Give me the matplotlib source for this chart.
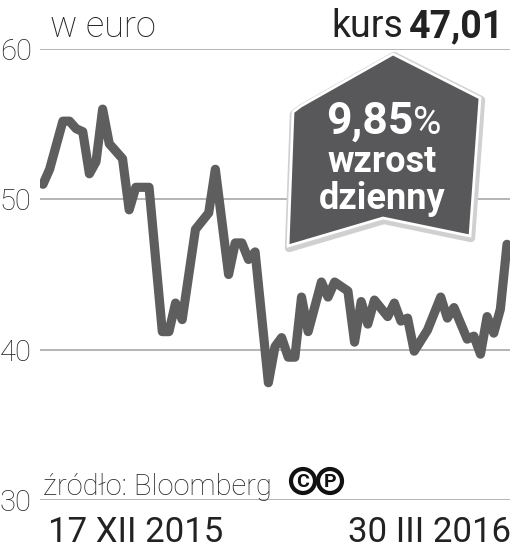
import matplotlib.pyplot as plt
from matplotlib.patches import Polygon, Ellipse

# kurs w euro, 17 XII 2015 - 30 III 2016 (dzien sesji, cena)
days = [0, 1, 3, 4, 5, 6, 7, 8, 9, 10, 12, 13, 14, 16, 18, 19, 20, 21,
        23, 25, 26, 28, 29, 30, 31, 32, 34, 35, 36, 37, 38, 39, 40, 42,
        43, 44, 46, 47, 48, 49, 50, 52, 53, 54, 55, 56, 58, 60, 61, 62,
        64, 65, 66, 67, 68, 69, 70]
price = [51.0, 52.0, 55.2, 55.2, 54.7, 54.5, 51.7, 52.5, 56.0, 53.7, 52.7,
         49.3, 50.8, 50.8, 41.2, 41.2, 43.1, 42.0, 48.0, 49.1, 52.0, 45.0,
         47.1, 47.1, 46.0, 46.5, 37.8, 40.2, 40.8, 39.5, 39.5, 43.5, 41.2,
         44.5, 43.5, 44.5, 43.9, 40.5, 43.2, 41.7, 43.3, 42.2, 43.1, 41.9,
         42.1, 39.9, 41.3, 43.5, 42.1, 42.8, 40.7, 40.9, 39.7, 42.2, 41.1,
         42.7, 47.01]
yticks = [30, 40, 50, 60]
kurs = "47,01"
zmiana = "9,85"
date_start = "17 XII 2015"
date_end = "30 III 2016"

W, H = 513, 551
plt.rcParams['font.family'] = ['Roboto', 'DejaVu Sans']

fig = plt.figure(figsize=(W / 100, H / 100), dpi=100)
ax = fig.add_axes([40 / W, 51 / H, 470 / W, 451 / H])

ax.plot(days, price, color='#5e5e5e', lw=6.6, solid_joinstyle='round',
        solid_capstyle='round', zorder=3)
ax.set_ylim(30, 60)
ax.set_xlim(-0.45, 70.45)
ax.set_yticks(yticks)
ax.set_yticklabels([str(t) for t in yticks], fontsize=21, fontweight='light',
                   color='#222222')
ax.set_xticks([])
ax.tick_params(axis='y', length=0, pad=6)
ax.grid(axis='y', color='#a8a8a8', lw=1.2)
for s in ax.spines.values():
    s.set_visible(False)


def px(x, y):
    return (x / W, 1 - y / H)


# naglowek
fig.text(*px(50, 37), "w euro", fontsize=26, fontweight='light',
         color='#222222', va='baseline')
fig.text(*px(403, 37), "kurs", fontsize=27, color='#222222',
         ha='right', va='baseline')
fig.text(*px(504, 37), kurs, fontsize=27, fontweight='bold',
         color='#222222', ha='right', va='baseline')

# strzalka z procentem
pts = [(393, 54), (480, 98), (470, 236), (383, 218), (288, 246),
       (293, 112), (301, 106)]
shadow = Polygon([px(x + 1, y + 2) for x, y in pts], closed=True,
                 transform=fig.transFigure, fc='#d0d0d0', ec='#d0d0d0',
                 lw=6, joinstyle='round', zorder=5)
box = Polygon([px(x, y) for x, y in pts], closed=True,
              transform=fig.transFigure, fc='#58585a', ec='white', lw=2,
              joinstyle='miter', zorder=6)
fig.add_artist(shadow)
fig.add_artist(box)
fig.text(*px(413, 134), zmiana, fontsize=32, fontweight='bold', color='white',
         ha='right', va='baseline', zorder=7)
fig.text(*px(413, 134), "%", fontsize=28, color='white',
         ha='left', va='baseline', zorder=7)
fig.text(*px(382, 172), "wzrost", fontsize=26, fontweight='bold',
         color='white', ha='center', va='baseline', zorder=7)
fig.text(*px(382, 209), "dzienny", fontsize=26, fontweight='bold',
         color='white', ha='center', va='baseline', zorder=7)

# zrodlo
fig.text(*px(43, 495), "źródło: Bloomberg", fontsize=21, fontweight='light',
         color='#222222', va='baseline')
for cx, letter in [(303, 'C'), (330, 'P')]:
    fig.add_artist(Ellipse(px(cx, 481), 24 / W, 24 / H,
                           transform=fig.transFigure, fc='white',
                           ec='#111111', lw=3))
    fig.text(*px(cx, 482), letter, fontsize=14, fontweight='bold',
             color='#111111', ha='center', va='center')

# daty
fig.text(*px(48, 542), date_start, fontsize=25, color='#222222',
         va='baseline')
fig.text(*px(511, 542), date_end, fontsize=25, color='#222222',
         ha='right', va='baseline')

fig.savefig('out.png', dpi=100)
